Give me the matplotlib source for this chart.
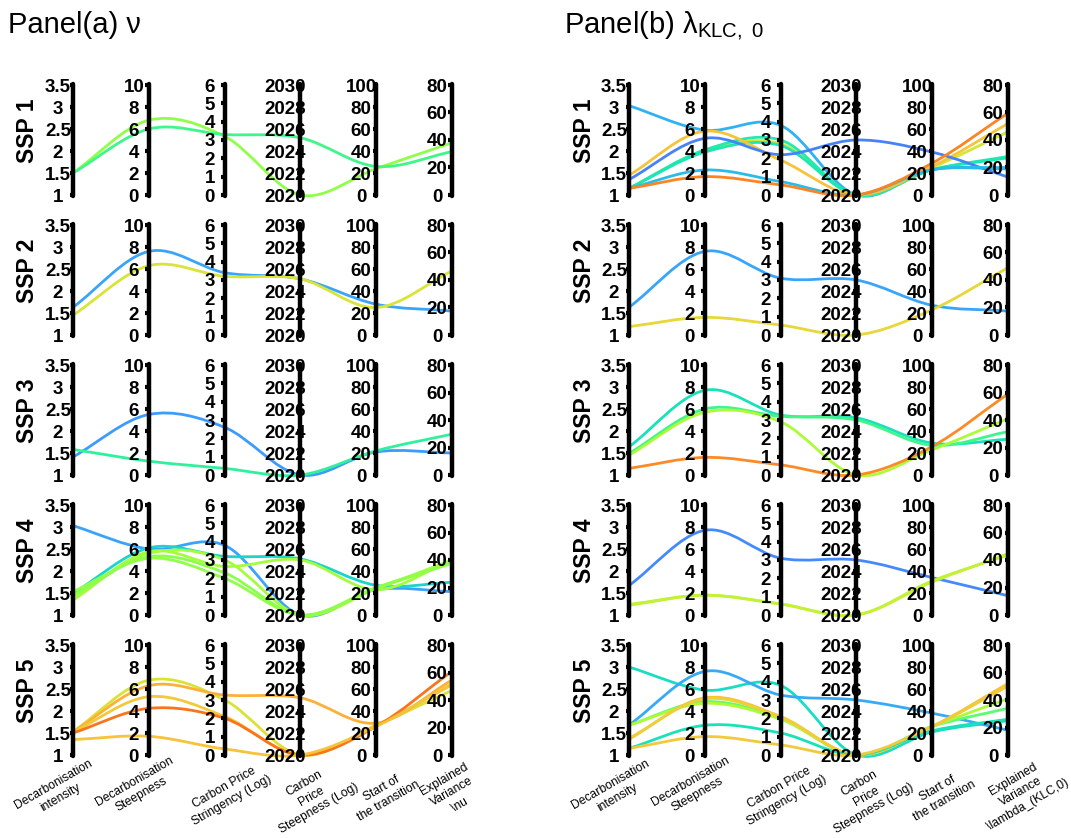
import numpy as np
import matplotlib
matplotlib.use('Agg')
import matplotlib.pyplot as plt
from matplotlib.path import Path
from matplotlib.patches import PathPatch
from matplotlib import colors

plt.rcParams['font.family'] = ['Liberation Sans', 'DejaVu Sans']
plt.rcParams['mathtext.fontset'] = 'custom'
plt.rcParams['mathtext.rm'] = 'Liberation Sans'
plt.rcParams['mathtext.it'] = 'Liberation Sans:italic'

# ---------------- data ----------------
axis_ranges = [(1, 3.5), (0, 10), (0, 6), (2020, 2030), (0, 100), (0, 80)]
axis_ticks = [[1, 1.5, 2, 2.5, 3, 3.5],
              [0, 2, 4, 6, 8, 10],
              [0, 1, 2, 3, 4, 5, 6],
              [2020, 2022, 2024, 2026, 2028, 2030],
              [0, 20, 40, 60, 80, 100],
              [0, 20, 40, 60, 80]]
row_labels = ['SSP 1', 'SSP 2', 'SSP 3', 'SSP 4', 'SSP 5']
x_labels_a = ['Decarbonisation\nintensity', 'Decarbonisation\nSteepness',
              'Carbon Price\nStringency (Log)', 'Carbon\nPrice\nSteepness (Log)',
              'Start of\nthe transition', 'Explained\nVariance\n\\nu']
x_labels_b = ['Decarbonisation\nintensity', 'Decarbonisation\nSteepness',
              'Carbon Price\nStringency (Log)', 'Carbon\nPrice\nSteepness (Log)',
              'Start of\nthe transition', 'Explained\nVariance\n\\lambda_(KLC,0)']
title_a = 'Panel(a) ν'
title_b = 'Panel(b) λ$_{\\mathrm{KLC,\\ 0}}$'

# each line: [intensity, steepness, CP stringency, CP steepness, start, explained variance]
a_ssp1 = [[1.5, 6.8, 3.2, 2020, 24, 38],
          [1.5, 6.0, 3.3, 2025.2, 26, 31.5]]
a_ssp2 = [[1.63, 7.6, 3.4, 2025.1, 28, 17.4],
          [1.45, 6.3, 3.2, 2025.1, 25, 46.6]]
a_ssp3 = [[1.41, 5.5, 2.6, 2020, 21, 16],
          [1.58, 1.26, 0.36, 2020, 22, 29.7]]
a_ssp4 = [[3.03, 6.0, 3.8, 2020, 23, 17],
          [1.49, 6.1, 3.2, 2025.1, 27, 23.8],
          [1.34, 5.76, 2.65, 2025, 23, 40],
          [1.38, 5.6, 3.0, 2020, 24, 40],
          [1.45, 5.3, 2.3, 2020, 25, 37.6],
          [1.53, 5.15, 2.0, 2020, 24, 38]]
a_ssp5 = [[1.53, 6.8, 3.0, 2020, 27, 47],
          [1.53, 6.3, 3.27, 2025.2, 29, 54.5],
          [1.52, 5.3, 2.1, 2020, 27, 51],
          [1.5, 4.24, 2.0, 2020, 26, 61],
          [1.35, 1.7, 0.33, 2020, 26, 52]]
b_ssp1 = [[3.03, 5.9, 3.8, 2020, 23, 19],
          [1.15, 4.0, 2.8, 2020, 25, 46],
          [1.15, 4.1, 3.0, 2020, 23, 28],
          [1.15, 3.9, 2.7, 2020, 23, 27],
          [1.45, 5.8, 1.9, 2020, 26, 52],
          [1.35, 5.15, 2.2, 2025, 39, 13],
          [1.15, 2.27, 0.73, 2020, 23, 20],
          [1.15, 1.67, 0.55, 2020, 29, 59.6]]
b_ssp2 = [[1.63, 7.6, 3.1, 2025, 27, 17.4],
          [1.19, 1.6, 0.54, 2020, 23, 49]]
b_ssp3 = [[1.64, 7.7, 3.27, 2025.2, 29, 26],
          [1.49, 6.0, 3.2, 2025, 27, 31.5],
          [1.45, 5.7, 2.9, 2020, 23, 41],
          [1.15, 1.6, 0.55, 2020, 26, 59]]
b_ssp4 = [[1.67, 7.7, 3.1, 2025, 34, 14],
          [1.24, 1.8, 0.6, 2020, 30, 44.5],
          [1.22, 1.8, 0.6, 2020, 31, 43.5]]
b_ssp5 = [[3.0, 5.9, 3.8, 2020, 21, 25],
          [1.68, 7.6, 3.27, 2025, 38, 18],
          [1.68, 4.85, 2.0, 2020, 26, 34],
          [1.68, 4.7, 1.95, 2020, 26, 41],
          [1.36, 5.2, 2.1, 2020, 26, 52],
          [1.38, 5.1, 2.05, 2020, 26, 50],
          [1.15, 2.7, 1.2, 2020, 22, 26],
          [1.15, 1.67, 0.55, 2020, 26, 51]]

panel_a = [a_ssp1, a_ssp2, a_ssp3, a_ssp4, a_ssp5]
panel_b = [b_ssp1, b_ssp2, b_ssp3, b_ssp4, b_ssp5]

# ---------------- layout ----------------
W, H = 1071, 838
fig = plt.figure(figsize=(W / 100, H / 100), dpi=100)
cmap = plt.get_cmap('turbo')
cnorm = colors.Normalize(vmin=0, vmax=80)

spacing = 75.8
panel_x0 = [73, 629]
row_top = 85
row_pitch = 140
row_h = 110


def fmt(t):
    return str(int(t)) if float(t).is_integer() else str(t)


def smooth_path(ys):
    n = len(ys)
    m = []
    for i in range(n):
        if i == 0:
            m.append(ys[1] - ys[0])
        elif i == n - 1:
            m.append(ys[-1] - ys[-2])
        else:
            m.append((ys[i + 1] - ys[i - 1]) / 2)
    verts = [(0, ys[0])]
    codes = [Path.MOVETO]
    for i in range(n - 1):
        verts += [(i + 1 / 3, ys[i] + m[i] / 3),
                  (i + 2 / 3, ys[i + 1] - m[i + 1] / 3),
                  (i + 1, ys[i + 1])]
        codes += [Path.CURVE4] * 3
    return Path(verts, codes)


def draw_row(ax, lines):
    ax.set_xlim(0, 5)
    ax.set_ylim(0, 1)
    ax.axis('off')
    for vals in lines:
        ys = [(v - lo) / (hi - lo) for v, (lo, hi) in zip(vals, axis_ranges)]
        col = cmap(cnorm(vals[-1]))
        ax.add_patch(PathPatch(smooth_path(ys), fill=False, edgecolor=col,
                               lw=2.0, zorder=2, clip_on=False))
    tick_len = 3.5 / spacing
    for i, ((lo, hi), ticks) in enumerate(zip(axis_ranges, axis_ticks)):
        ax.plot([i, i], [-0.01, 1.01], color='black', lw=3.2, zorder=5,
                solid_capstyle='round', clip_on=False)
        for t in ticks:
            yn = (t - lo) / (hi - lo)
            ax.plot([i - tick_len, i], [yn, yn], color='black', lw=3.0,
                    zorder=5, solid_capstyle='butt', clip_on=False)
            ax.annotate(fmt(t), (i, yn), xytext=(-15, 0),
                        textcoords='offset pixels', ha='center',
                        va='center_baseline', fontsize=13.5, fontweight='bold',
                        zorder=4, annotation_clip=False)


for p, (panel, x0) in enumerate(zip([panel_a, panel_b], panel_x0)):
    for r, lines in enumerate(panel):
        top = row_top + r * row_pitch
        ax = fig.add_axes([x0 / W, 1 - (top + row_h) / H,
                           5 * spacing / W, row_h / H])
        draw_row(ax, lines)
        lx = 28 if p == 0 else 585
        fig.text(lx / W, 1 - (top + row_h / 2 - 9) / H, row_labels[r],
                 rotation=90, ha='center', va='center', fontsize=16.5,
                 fontweight='bold')

# x labels
offs_a = [-16, -11, 3, 11, 9, 0]
offs_b = [-15, -11, 2, 10, 9, 13]
ys_lab = [791, 788, 794, 796, 795, 792]
for p, (labels, offs, x0) in enumerate(zip([x_labels_a, x_labels_b],
                                            [offs_a, offs_b], panel_x0)):
    for i, lab in enumerate(labels):
        cx = x0 + i * spacing + offs[i]
        fig.text(cx / W, 1 - ys_lab[i] / H, lab, rotation=30,
                 rotation_mode='anchor', ha='center', va='center',
                 multialignment='center', fontsize=8.7, linespacing=1.3)

fig.text(8 / W, 1 - 33 / H, title_a, fontsize=21, ha='left', va='baseline')
fig.text(564 / W, 1 - 33 / H, title_b, fontsize=21, ha='left', va='baseline')

fig.savefig('out.png', dpi=100)
